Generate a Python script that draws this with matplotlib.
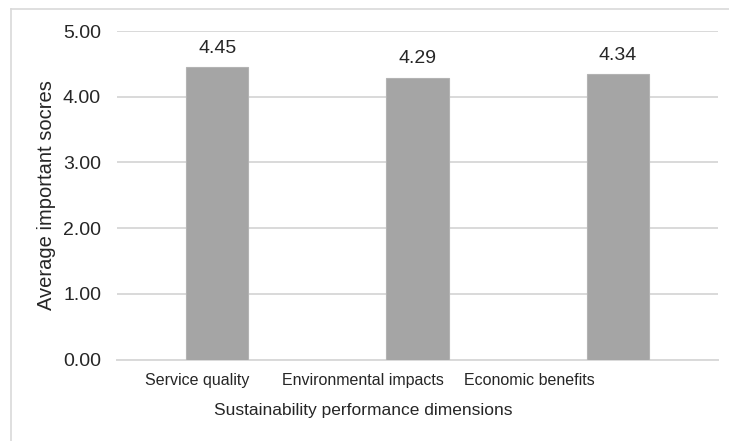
import matplotlib
matplotlib.use("Agg")
import matplotlib.pyplot as plt
from matplotlib.lines import Line2D
import numpy as np

categories = ["Service quality", "Environmental impacts", "Economic benefits"]
scores = [4.45, 4.29, 4.34]
y_ticks = [0, 1, 2, 3, 4, 5]
x_title = "Sustainability performance dimensions"
y_title = "Average important socres"

family = ["Liberation Sans", "DejaVu Sans"]
text_color = "#262626"

fig = plt.figure(figsize=(7.29, 4.41), dpi=100)
ax = fig.add_axes([117 / 729, 1 - 359.5 / 441, 601 / 729, (359.5 - 31) / 441])

x = np.arange(len(categories))
ax.bar(x, scores, width=0.31, color="#a5a5a5", edgecolor="#b3b3b3",
       linewidth=0.8, zorder=3)

for xi, v in zip(x, scores):
    ax.annotate(f"{v:.2f}", (xi, v), xytext=(0, 13.5), textcoords="offset points",
                ha="center", va="center", fontsize=14, family=family,
                color=text_color)

ax.set_xlim(-0.5, 2.5)
ax.set_ylim(0, 5)
ax.set_yticks(y_ticks)
ax.set_yticklabels([f"{t:.2f}" for t in y_ticks], family=family, fontsize=14,
                   color=text_color)

# category labels sit slightly left of the bar centres
label_pos = [-0.1, 0.73, 1.56]
ax.set_xticks(label_pos)
ax.set_xticklabels(categories, family=family, fontsize=11.5, color=text_color)
ax.tick_params(axis="both", length=0)
ax.tick_params(axis="y", pad=11.5)
ax.tick_params(axis="x", pad=9.5)

ax.grid(axis="y", color="#d9d9d9", linewidth=1.4, zorder=0)
ax.set_axisbelow(True)
for s in ["top", "right", "left"]:
    ax.spines[s].set_visible(False)
ax.spines["bottom"].set_color("#d9d9d9")
ax.spines["bottom"].set_linewidth(1.4)

ax.set_xlabel(x_title, family=family, fontsize=12.5, color=text_color)
ax.xaxis.set_label_coords((363 - 117) / 601, 1 - (410 - 31) / (359.5 - 31))
ax.xaxis.label.set_va("center")
ax.set_ylabel(y_title, family=family, fontsize=14.5, color=text_color)
ax.yaxis.set_label_coords((47 - 117) / 601, 0.5)
ax.yaxis.label.set_va("center")

# outer frame of the chart area (left and top edges)
fx, fy = 10.5 / 729, 1 - 9 / 441
fig.add_artist(Line2D([fx, fx], [0, fy], transform=fig.transFigure,
                      color="#d9d9d9", linewidth=1.2))
fig.add_artist(Line2D([fx, 1], [fy, fy], transform=fig.transFigure,
                      color="#d9d9d9", linewidth=1.2))

fig.savefig("out.png", dpi=100)
